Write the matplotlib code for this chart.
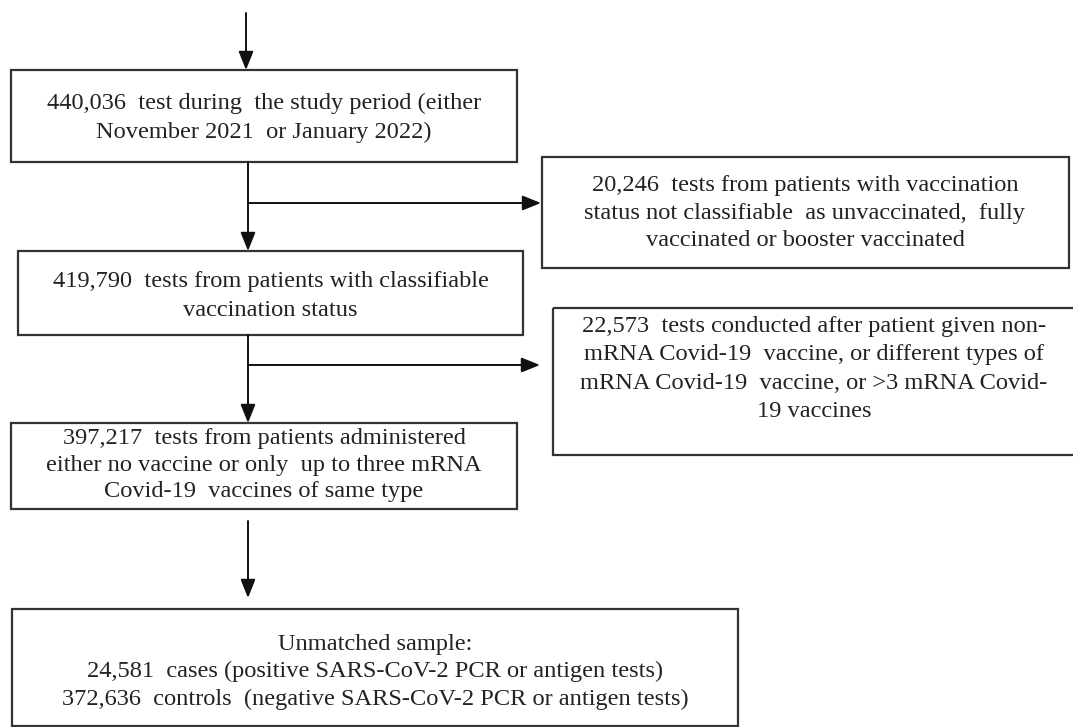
import matplotlib
matplotlib.use("Agg")
import matplotlib.pyplot as plt
from matplotlib.patches import Rectangle

# ---- data ----
n_total = 440036
n_unclassifiable = 20246
n_classifiable = 419790
n_excluded_vacc = 22573
n_included = 397217
n_cases = 24581
n_controls = 372636

main_texts = [
    f"{n_total:,}  test during  the study period (either\nNovember 2021  or January 2022)",
    f"{n_classifiable:,}  tests from patients with classifiable\nvaccination status",
    f"{n_included:,}  tests from patients administered\neither no vaccine or only  up to three mRNA\nCovid-19  vaccines of same type",
    f"Unmatched sample:\n{n_cases:,}  cases (positive SARS-CoV-2 PCR or antigen tests)\n"
    f"{n_controls:,}  controls  (negative SARS-CoV-2 PCR or antigen tests)",
]
side_texts = [
    f"{n_unclassifiable:,}  tests from patients with vaccination\nstatus not classifiable  as unvaccinated,  fully\nvaccinated or booster vaccinated",
    f"{n_excluded_vacc:,}  tests conducted after patient given non-\nmRNA Covid-19  vaccine, or different types of\nmRNA Covid-19  vaccine, or >3 mRNA Covid-\n19 vaccines",
]

# ---- layout (pixel coordinates, y downward) ----
W, H = 1073, 727
fig = plt.figure(figsize=(W / 100, H / 100), dpi=100)
ax = fig.add_axes([0, 0, 1, 1])
ax.set_xlim(0, W)
ax.set_ylim(H, 0)
ax.axis("off")

FONT = ["Liberation Serif", "DejaVu Serif"]
FS = 17.6
EC = "#333333"
LW = 1.6

main_boxes = [  # x0, y0, x1, y1
    (11, 70, 517, 162),
    (18, 251, 523, 335),
    (11, 423, 517, 509),
    (12, 609, 738, 726),
]
main_text_y = [118, 296, 465, 672]
main_ls = [1.45, 1.45, 1.36, 1.42]
side_boxes = [
    (542, 157, 1069, 268),
    (553, 308, 1085, 455),
]
side_text_x = [805, 814]
side_text_y = [213, 369]
side_ls = [1.42, 1.45]

def box(b):
    x0, y0, x1, y1 = b
    ax.add_patch(Rectangle((x0, y0), x1 - x0, y1 - y0, fill=False,
                           edgecolor=EC, linewidth=LW))

def arrow(x0, y0, x1, y1):
    ax.annotate("", xy=(x1, y1), xytext=(x0, y0),
                arrowprops=dict(arrowstyle="-|>,head_length=0.75,head_width=0.3",
                                mutation_scale=15, color="#111111", lw=1.4,
                                shrinkA=0, shrinkB=0))

for b, t, ty, ls in zip(main_boxes, main_texts, main_text_y, main_ls):
    box(b)
    ax.text((b[0] + b[2]) / 2, ty, t, ha="center", va="center", family=FONT,
            fontsize=FS, color="#222222", linespacing=ls)

for b, t, tx, ty, ls in zip(side_boxes, side_texts, side_text_x, side_text_y, side_ls):
    box(b)
    ax.text(tx, ty, t, ha="center", va="center",
            family=FONT, fontsize=FS, color="#222222", linespacing=ls)

XA = 248
# top incoming arrow
arrow(246, 13, 246, 70)
# box1 -> box2 with branch
arrow(XA, 162, XA, 251)
arrow(XA, 203, 541, 203)
# box2 -> box3 with branch
arrow(XA, 335, XA, 423)
arrow(XA, 365, 540, 365)
# box3 -> box4
arrow(XA, 521, XA, 598)

fig.savefig("out.png", dpi=100, facecolor="white")
